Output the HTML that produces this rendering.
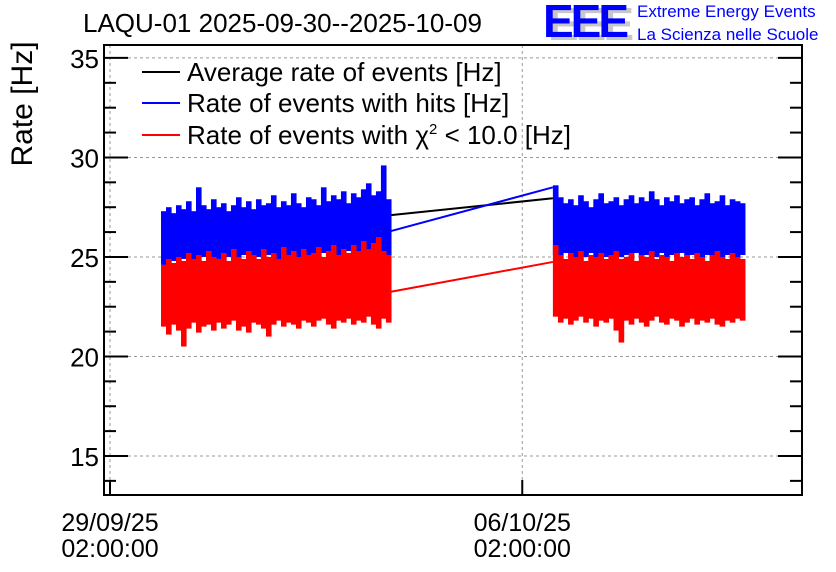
<!DOCTYPE html>
<html><head><meta charset="utf-8"><style>
body{margin:0;background:#fff;width:836px;height:572px;overflow:hidden}
svg{display:block;font-family:"Liberation Sans",sans-serif}
</style></head><body>
<svg id="chart" width="836" height="572">
<text x="83" y="32" font-size="26">LAQU-01 2025-09-30--2025-10-09</text>
<g>
<text x="548" y="40" font-size="46" font-weight="bold" fill="#c8c8c8" letter-spacing="-3">EEE</text>
<text x="543" y="37" font-size="46" font-weight="bold" fill="#0000ff" letter-spacing="-3">EEE</text>
<text x="637" y="17" font-size="17" fill="#0000ff">Extreme Energy Events</text>
<text x="637" y="40" font-size="17" fill="#0000ff">La Scienza nelle Scuole</text>
</g>
<text transform="translate(32,104) rotate(-90)" text-anchor="middle" font-size="30">Rate [Hz]</text>
<g id="grid"></g><g id="data"></g><g id="axes"></g>
<g font-size="26">
<g><line x1="142" y1="72" x2="180" y2="72" stroke="#000" stroke-width="2"/><text x="187" y="81">Average rate of events [Hz]</text></g>
<g><line x1="142" y1="103" x2="180" y2="103" stroke="#00f" stroke-width="2"/><text x="187" y="112">Rate of events with hits [Hz]</text></g>
<g><line x1="142" y1="135" x2="180" y2="135" stroke="#f00" stroke-width="2"/><text x="187" y="144">Rate of events with χ<tspan dy="-10" font-size="15">2</tspan><tspan dy="10"> &lt; 10.0 [Hz]</tspan></text></g>
</g>
</svg>
<script>
const yTicks=[15,20,25,30,35];
const xTickDays=[0,7];
const xTickLabels=[["29/09/25","02:00:00"],["06/10/25","02:00:00"]];
const block1Range=[0.866,4.77];
const block2Range=[7.52,10.78];
const blueHi1=[27.3,27.5,27.2,27.6,27.4,27.8,27.3,28.5,27.6,27.4,27.9,27.5,27.7,27.3,27.6,28.0,27.5,27.8,27.4,27.9,27.6,27.7,28.1,27.5,27.8,27.6,28.2,27.7,27.5,28.0,27.9,27.6,28.5,27.8,28.1,27.9,28.3,27.7,28.2,28.0,28.4,28.7,28.1,28.3,29.6,27.9];
const blueLo1=[24.6,24.3,24.8,24.5,24.9,24.7,24.4,24.8,25.0,24.6,24.8,24.9,24.7,25.0,24.8,24.6,25.1,24.9,24.7,25.0,24.8,25.1,24.9,24.6,25.0,24.9,25.2,24.8,25.0,24.9,25.1,24.9,25.2,25.0,24.8,25.1,25.0,25.3,24.9,25.1,25.2,25.0,25.3,24.8,25.1,24.9];
const redHi1=[24.6,24.9,24.7,25.0,24.8,25.2,24.9,25.1,24.8,25.3,25.0,24.9,25.2,24.8,25.4,25.0,24.9,25.3,25.1,24.9,25.4,25.0,25.2,24.9,25.5,25.1,25.3,25.0,25.4,25.1,25.2,25.5,25.0,25.3,25.6,25.1,25.4,25.2,25.6,25.3,25.8,25.4,25.7,26.0,25.3,25.1];
const redLo1=[21.5,21.1,21.6,21.3,20.5,21.4,21.7,21.2,21.5,21.6,21.3,21.7,21.4,21.6,21.8,21.3,21.5,21.2,21.7,21.6,21.4,21.0,21.6,21.8,21.5,21.7,21.6,21.4,21.8,21.7,21.5,21.8,21.9,21.6,21.4,21.8,21.7,21.9,21.6,21.8,21.7,22.0,21.6,21.4,21.9,21.7];
const blueHi2=[28.6,28.0,27.7,27.9,27.6,28.1,27.8,27.5,27.9,28.2,27.7,27.8,28.0,27.6,27.9,28.1,27.7,28.0,27.8,28.3,27.9,27.6,28.0,27.8,28.1,27.7,27.9,28.0,27.6,27.9,28.2,27.7,27.8,28.1,27.6,27.9,27.8,27.7];
const blueLo2=[25.1,24.9,25.2,25.0,24.8,25.1,25.0,25.2,24.9,25.1,25.0,24.8,25.2,25.0,25.1,24.9,25.2,25.0,25.1,24.8,25.0,25.2,24.9,25.1,25.0,25.2,24.9,25.1,25.0,24.8,25.1,25.0,25.2,24.9,25.1,25.0,24.9,25.1];
const redHi2=[25.6,25.1,24.9,25.2,25.0,25.3,24.8,25.1,25.0,25.2,24.9,25.1,25.3,24.9,25.0,25.2,24.8,25.1,25.0,25.3,24.9,25.1,25.0,24.8,25.2,25.0,25.1,24.9,25.2,25.0,24.8,25.1,25.3,25.0,24.9,25.2,25.0,24.9];
const redLo2=[22.0,21.7,21.9,21.6,21.8,22.0,21.7,21.9,21.5,21.8,21.7,21.9,21.3,20.7,21.8,21.6,21.9,21.7,21.5,21.8,22.0,21.7,21.6,21.9,21.8,21.5,21.7,21.9,21.6,21.8,21.7,21.9,21.6,21.5,21.8,21.7,21.9,21.8];
const avgGap=[27.1,27.95];
const blueGap=[26.3,28.5];
const redGap=[23.25,24.75];

const L=104,R=802,T=45,B=495,X0=-0.102,X1=11.75,Y0=13.04,Y1=35.65;
const sx=d=>L+(d-X0)/(X1-X0)*(R-L);
const sy=v=>B-(v-Y0)/(Y1-Y0)*(B-T);
const NS='http://www.w3.org/2000/svg';
function mk(tag,attrs,parent){const e=document.createElementNS(NS,tag);for(const k in attrs)e.setAttribute(k,attrs[k]);parent.appendChild(e);return e;}
const grid=document.getElementById('grid'),data=document.getElementById('data'),axes=document.getElementById('axes');
yTicks.forEach(v=>{
  const g=mk('line',{x1:L,x2:R,y1:sy(v),y2:sy(v),stroke:'#999','stroke-dasharray':'3,3'},grid);
  
  
});
xTickDays.forEach(d=>{
  const g=mk('line',{x1:sx(d),x2:sx(d),y1:T,y2:B,stroke:'#999','stroke-dasharray':'3,3'},grid);
  
  
});
function bars(hi,lo,range,color,name){
  const n=hi.length,w=(sx(range[1])-sx(range[0]))/n;
  for(let i=0;i<n;i++){
    const d=range[0]+(range[1]-range[0])*i/n;
    const r=mk('rect',{x:sx(d),y:sy(hi[i]),width:w+0.6,height:sy(lo[i])-sy(hi[i]),fill:color},data);
    
    
  }
}
function gap(vals,color,name){
  const l=mk('line',{x1:sx(block1Range[1]),y1:sy(vals[0]),x2:sx(block2Range[0]),y2:sy(vals[1]),stroke:color,'stroke-width':2},data);
  
  
}
gap(avgGap,'#000','average-rate-gap-line');
bars(blueHi1,blueLo1,block1Range,'#00f','hits-rate-band');
bars(blueHi2,blueLo2,block2Range,'#00f','hits-rate-band');
gap(blueGap,'#00f','hits-rate-gap-line');
bars(redHi1,redLo1,block1Range,'#f00','chi2-rate-band');
bars(redHi2,redLo2,block2Range,'#f00','chi2-rate-band');
gap(redGap,'#f00','chi2-rate-gap-line');
const fr=mk('rect',{x:L,y:T,width:R-L,height:B-T,fill:'none',stroke:'#000','stroke-width':2},axes);


for(let v=13.75;v<=35.6;v+=1.25){
  const major=yTicks.includes(Math.round(v*100)/100);
  const len=major?24:12;
  const t1=mk('line',{x1:L,x2:L+len,y1:sy(v),y2:sy(v),stroke:'#000','stroke-width':2},axes);
  
  
  const t2=mk('line',{x1:R-len,x2:R,y1:sy(v),y2:sy(v),stroke:'#000','stroke-width':2},axes);
  
  
}
yTicks.forEach(v=>{
  const t=mk('text',{x:L-5,y:sy(v)+10,'text-anchor':'end','font-size':26},axes);
  t.textContent=v;
  
  
});
xTickDays.forEach((d,i)=>{
  const t=mk('line',{x1:sx(d),x2:sx(d),y1:B-15,y2:B,stroke:'#000','stroke-width':2},axes);
  
  
  xTickLabels[i].forEach((s,j)=>{
    const tx=mk('text',{x:sx(d),y:531+j*26,'text-anchor':'middle','font-size':25},axes);
    tx.textContent=s;
    
    
  });
});
</script>
</body></html>
